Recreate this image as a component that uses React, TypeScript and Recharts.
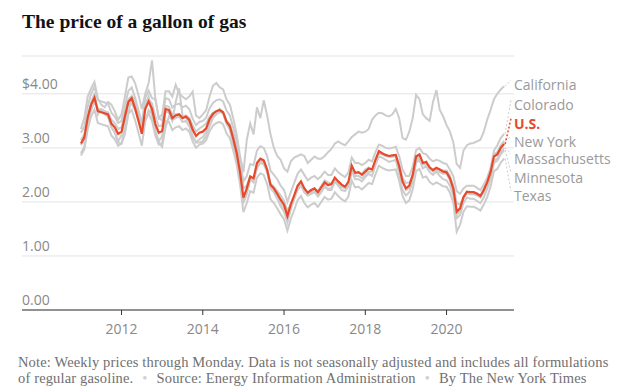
import { LineChart, Line, XAxis, YAxis, CartesianGrid } from 'recharts'

// monthly averages, Jan 2011 .. Jun 2021
const START_YEAR = 2011

const us = [
  3.08, 3.19, 3.56, 3.80, 3.93, 3.68, 3.66, 3.64, 3.62, 3.45, 3.38, 3.26,
  3.30, 3.58, 3.85, 3.92, 3.73, 3.50, 3.26, 3.72, 3.86, 3.72, 3.44, 3.28,
  3.31, 3.72, 3.70, 3.55, 3.60, 3.62, 3.55, 3.58, 3.52, 3.34, 3.22, 3.28,
  3.30, 3.36, 3.53, 3.63, 3.68, 3.70, 3.66, 3.49, 3.40, 3.17, 2.91, 2.55,
  2.08, 2.25, 2.47, 2.44, 2.72, 2.80, 2.77, 2.60, 2.32, 2.25, 2.15, 2.04,
  1.95, 1.74, 1.96, 2.12, 2.30, 2.38, 2.25, 2.17, 2.22, 2.25, 2.18, 2.27,
  2.36, 2.31, 2.33, 2.45, 2.38, 2.32, 2.28, 2.37, 2.67, 2.54, 2.55, 2.50,
  2.56, 2.62, 2.60, 2.78, 2.94, 2.90, 2.87, 2.85, 2.86, 2.87, 2.66, 2.38,
  2.25, 2.30, 2.50, 2.84, 2.88, 2.72, 2.74, 2.64, 2.59, 2.63, 2.60, 2.56,
  2.55, 2.44, 2.25, 1.82, 1.88, 2.09, 2.19, 2.18, 2.18, 2.15, 2.11, 2.22,
  2.36, 2.55, 2.84, 2.88, 3.00, 3.07,
]

const california = [
  3.35, 3.55, 3.95, 4.10, 4.22, 3.92, 3.80, 3.75, 3.85, 3.80, 3.68, 3.52,
  3.62, 3.95, 4.30, 4.32, 4.20, 3.98, 3.72, 4.00, 4.20, 4.62, 3.90, 3.55,
  3.62, 4.05, 4.05, 3.95, 4.17, 4.00, 3.95, 3.90, 3.95, 4.04, 3.60, 3.55,
  3.62, 3.70, 3.95, 4.15, 4.20, 4.12, 4.08, 3.90, 3.80, 3.55, 3.25, 2.85,
  2.55, 3.15, 3.45, 3.25, 3.75, 3.55, 3.88, 3.60, 3.25, 3.00, 2.85, 2.78,
  2.62, 2.56, 2.75, 2.82, 2.85, 2.88, 2.85, 2.72, 2.78, 2.84, 2.80, 2.80,
  2.85, 2.92, 2.98, 3.08, 3.12, 3.08, 3.05, 3.12, 3.20, 3.25, 3.30, 3.28,
  3.30, 3.35, 3.52, 3.60, 3.65, 3.64, 3.60, 3.58, 3.62, 3.72, 3.55, 3.18,
  3.15, 3.30, 3.55, 3.98, 3.90, 3.62, 3.55, 3.50, 3.85, 4.07, 3.70, 3.58,
  3.42, 3.30, 3.10, 2.70, 2.63, 2.95, 3.05, 3.08, 3.09, 3.12, 3.15, 3.30,
  3.52, 3.70, 3.90, 4.00, 4.08, 4.14,
]

const colorado = [
  2.90, 3.02, 3.40, 3.70, 3.85, 3.72, 3.68, 3.62, 3.58, 3.38, 3.28, 3.10,
  3.08, 3.25, 3.62, 3.95, 3.90, 3.62, 3.30, 3.50, 3.70, 3.62, 3.32, 3.10,
  3.02, 3.38, 3.58, 3.52, 3.55, 3.58, 3.48, 3.50, 3.40, 3.20, 3.10, 3.10,
  3.12, 3.22, 3.40, 3.55, 3.62, 3.66, 3.64, 3.46, 3.35, 3.10, 2.80, 2.40,
  2.00, 2.15, 2.42, 2.40, 2.62, 2.72, 2.70, 2.55, 2.30, 2.25, 2.10, 1.98,
  1.88, 1.68, 1.88, 2.06, 2.22, 2.30, 2.18, 2.12, 2.15, 2.18, 2.12, 2.20,
  2.28, 2.24, 2.26, 2.38, 2.33, 2.28, 2.25, 2.32, 2.58, 2.48, 2.48, 2.44,
  2.50, 2.56, 2.56, 2.74, 2.90, 2.88, 2.86, 2.84, 2.84, 2.84, 2.64, 2.38,
  2.22, 2.26, 2.45, 2.78, 2.86, 2.72, 2.72, 2.62, 2.56, 2.58, 2.55, 2.52,
  2.52, 2.40, 2.20, 1.76, 1.84, 2.06, 2.18, 2.18, 2.18, 2.16, 2.12, 2.24,
  2.40, 2.62, 2.95, 3.05, 3.18, 3.26,
]

const newYork = [
  3.28, 3.39, 3.76, 4.00, 4.13, 3.88, 3.86, 3.84, 3.82, 3.65, 3.58, 3.46,
  3.50, 3.78, 4.05, 4.12, 3.93, 3.70, 3.46, 3.92, 4.06, 3.92, 3.90, 3.55,
  3.51, 3.92, 3.90, 3.75, 3.80, 3.82, 3.75, 3.78, 3.72, 3.54, 3.42, 3.48,
  3.50, 3.56, 3.73, 3.83, 3.88, 3.90, 3.86, 3.69, 3.60, 3.37, 3.11, 2.78,
  2.38, 2.48, 2.70, 2.68, 2.95, 3.03, 3.00, 2.85, 2.58, 2.50, 2.42, 2.30,
  2.22, 2.00, 2.18, 2.35, 2.52, 2.60, 2.50, 2.40, 2.45, 2.48, 2.42, 2.48,
  2.56, 2.50, 2.50, 2.62, 2.55, 2.50, 2.46, 2.54, 2.82, 2.72, 2.72, 2.68,
  2.72, 2.78, 2.75, 2.92, 3.06, 3.04, 3.00, 2.99, 3.00, 3.02, 2.85, 2.60,
  2.48, 2.48, 2.65, 2.96, 3.00, 2.90, 2.88, 2.80, 2.75, 2.78, 2.76, 2.72,
  2.70, 2.60, 2.48, 2.20, 2.15, 2.25, 2.30, 2.30, 2.30, 2.26, 2.22, 2.32,
  2.45, 2.62, 2.88, 2.92, 3.05, 3.13,
]

const massachusetts = [
  3.14, 3.25, 3.58, 3.80, 3.93, 3.72, 3.70, 3.68, 3.66, 3.52, 3.46, 3.35,
  3.38, 3.65, 3.90, 3.96, 3.78, 3.55, 3.35, 3.76, 3.90, 3.82, 3.58, 3.40,
  3.42, 3.78, 3.76, 3.62, 3.62, 3.62, 3.58, 3.60, 3.56, 3.42, 3.30, 3.36,
  3.40, 3.45, 3.58, 3.65, 3.68, 3.70, 3.66, 3.50, 3.44, 3.24, 3.00, 2.70,
  2.25, 2.30, 2.48, 2.42, 2.66, 2.76, 2.74, 2.60, 2.34, 2.28, 2.20, 2.12,
  2.02, 1.84, 1.95, 2.10, 2.26, 2.34, 2.24, 2.16, 2.20, 2.24, 2.20, 2.30,
  2.40, 2.36, 2.33, 2.42, 2.36, 2.30, 2.26, 2.34, 2.64, 2.52, 2.54, 2.52,
  2.60, 2.64, 2.60, 2.74, 2.90, 2.88, 2.85, 2.84, 2.84, 2.86, 2.70, 2.44,
  2.35, 2.36, 2.48, 2.76, 2.84, 2.70, 2.68, 2.62, 2.57, 2.60, 2.60, 2.58,
  2.58, 2.48, 2.30, 1.98, 1.95, 2.08, 2.16, 2.14, 2.14, 2.12, 2.08, 2.18,
  2.32, 2.50, 2.76, 2.80, 2.92, 3.00,
]

const minnesota = [
  3.05, 3.15, 3.55, 3.82, 4.02, 3.62, 3.72, 3.68, 3.58, 3.38, 3.30, 3.12,
  3.24, 3.50, 3.80, 3.82, 3.70, 3.55, 3.30, 3.80, 3.95, 3.62, 3.30, 3.12,
  3.22, 3.68, 3.65, 3.50, 3.85, 4.10, 3.60, 3.55, 3.48, 3.22, 3.10, 3.16,
  3.20, 3.30, 3.48, 3.60, 3.62, 3.72, 3.64, 3.44, 3.34, 3.06, 2.84, 2.45,
  1.98, 2.16, 2.42, 2.36, 2.66, 2.74, 2.70, 2.58, 2.25, 2.18, 2.06, 1.92,
  1.82, 1.62, 1.88, 2.05, 2.24, 2.34, 2.18, 2.12, 2.16, 2.20, 2.10, 2.18,
  2.30, 2.22, 2.22, 2.38, 2.30, 2.22, 2.20, 2.28, 2.58, 2.42, 2.42, 2.38,
  2.46, 2.52, 2.48, 2.68, 2.84, 2.82, 2.78, 2.74, 2.76, 2.78, 2.52, 2.22,
  2.12, 2.18, 2.38, 2.72, 2.78, 2.62, 2.66, 2.55, 2.50, 2.56, 2.48, 2.42,
  2.40, 2.30, 2.12, 1.70, 1.76, 1.98, 2.08, 2.06, 2.06, 2.02, 1.98, 2.08,
  2.24, 2.42, 2.72, 2.76, 2.88, 2.96,
]

const texas = [
  2.86, 2.97, 3.34, 3.58, 3.71, 3.46, 3.44, 3.42, 3.40, 3.23, 3.16, 3.04,
  3.08, 3.36, 3.63, 3.70, 3.51, 3.28, 3.04, 3.50, 3.64, 3.50, 3.22, 3.06,
  3.09, 3.50, 3.48, 3.33, 3.38, 3.40, 3.33, 3.36, 3.30, 3.12, 3.00, 3.06,
  3.08, 3.14, 3.31, 3.41, 3.46, 3.48, 3.44, 3.27, 3.18, 2.95, 2.69, 2.33,
  1.81, 1.98, 2.20, 2.17, 2.45, 2.53, 2.50, 2.33, 2.05, 1.98, 1.88, 1.77,
  1.68, 1.47, 1.69, 1.85, 2.03, 2.11, 1.98, 1.90, 1.95, 1.98, 1.91, 2.00,
  2.09, 2.04, 2.06, 2.18, 2.11, 2.05, 2.01, 2.10, 2.40, 2.27, 2.28, 2.23,
  2.29, 2.35, 2.33, 2.51, 2.67, 2.63, 2.60, 2.58, 2.59, 2.60, 2.39, 2.11,
  1.98, 2.03, 2.23, 2.57, 2.61, 2.45, 2.47, 2.37, 2.32, 2.36, 2.33, 2.29,
  2.28, 2.17, 1.98, 1.45, 1.58, 1.82, 1.92, 1.91, 1.91, 1.88, 1.84, 1.95,
  2.09, 2.28, 2.57, 2.61, 2.73, 2.80,
]

const yearTicks = [2012, 2014, 2016, 2018, 2020]
const priceTicks = [0, 1, 2, 3, 4]

const states = [
  { key: 'california', name: 'California', values: california },
  { key: 'colorado', name: 'Colorado', values: colorado },
  { key: 'newYork', name: 'New York', values: newYork },
  { key: 'massachusetts', name: 'Massachusetts', values: massachusetts },
  { key: 'minnesota', name: 'Minnesota', values: minnesota },
  { key: 'texas', name: 'Texas', values: texas },
]

// baseline y of each end label
const LABEL_Y: Record<string, number> = {
  california: 90,
  colorado: 110,
  us: 128.5,
  newYork: 146.5,
  massachusetts: 164,
  minnesota: 182.5,
  texas: 201,
}

const RED = '#e8492a'
const GRAY = '#cccccc'
const SANS = '"Open Sans", "Noto Sans", sans-serif'
const SERIF = '"Liberation Serif", "Times New Roman", serif'

const data = us.map((v, i) => {
  const row: Record<string, number> = { t: START_YEAR + i / 12, us: v }
  states.forEach((s) => {
    row[s.key] = s.values[i]
  })
  return row
})

const LAST = us.length - 1
const LABEL_X = 514

function endLabel(key: string, name: string, color: string, bold: boolean) {
  return (props: any) => {
    if (props.index !== LAST) return null
    const { x, y } = props
    const by = LABEL_Y[key]
    return (
      <g key={`lbl-${key}`}>
        <line
          x1={x + 1}
          y1={y}
          x2={LABEL_X - 3}
          y2={by - 10}
          stroke={color}
          strokeWidth={bold ? 1.5 : 1}
          strokeDasharray="2 2"
        />
        <text
          x={LABEL_X}
          y={by}
          fill={color === GRAY ? '#9a9a9a' : color}
          fontSize={14}
          fontWeight={bold ? 700 : 400}
          fontFamily={SANS}
        >
          {name}
        </text>
      </g>
    )
  }
}

function priceTick(props: any) {
  const { y, payload } = props
  const v = Number(payload.value)
  return (
    <text key={`pt-${v}`} x={22} y={y - 5} fill="#888" fontSize={14} fontFamily={SANS}>
      {v === 4 ? `$${v.toFixed(2)}` : v.toFixed(2)}
    </text>
  )
}

export default function App() {
  return (
    <div
      style={{
        position: 'absolute',
        left: 0,
        top: 0,
        width: 625,
        height: 392,
        background: '#fff',
        overflow: 'hidden',
      }}
    >
      <div
        style={{
          position: 'absolute',
          left: 22,
          top: 12,
          fontFamily: SERIF,
          fontWeight: 700,
          fontSize: 19.5,
          lineHeight: '19.5px',
          color: '#121212',
          whiteSpace: 'nowrap',
        }}
      >
        The price of a gallon of gas
      </div>

      <div style={{ position: 'absolute', left: 0, top: 0 }}>
        <LineChart
          width={625}
          height={340}
          data={data}
          margin={{ top: 56, right: 111, bottom: 0, left: 21 }}
        >
          <CartesianGrid vertical={false} stroke="#e3e3e3" />
          <XAxis
            dataKey="t"
            type="number"
            domain={[2009.55, 2021.66]}
            ticks={yearTicks}
            allowDataOverflow
            height={30}
            stroke="#333"
            tickSize={5}
            tickMargin={9}
            tick={{ fill: '#888', fontSize: 14, fontFamily: SANS }}
          />
          <YAxis
            type="number"
            domain={[0, 4.7]}
            ticks={priceTicks}
            width={1}
            axisLine={false}
            tickLine={false}
            tick={priceTick}
            interval={0}
            allowDataOverflow
          />
          {states.map((s) => (
            <Line
              key={s.key}
              dataKey={s.key}
              type="linear"
              stroke={GRAY}
              strokeWidth={2}
              dot={false}
              isAnimationActive={false}
              label={endLabel(s.key, s.name, GRAY, false)}
            />
          ))}
          <Line
            dataKey="us"
            type="linear"
            stroke={RED}
            strokeWidth={2.2}
            dot={false}
            isAnimationActive={false}
            label={endLabel('us', 'U.S.', RED, true)}
          />
        </LineChart>
      </div>

      <div
        style={{
          position: 'absolute',
          left: 18,
          top: 354,
          fontFamily: SERIF,
          fontSize: 14.5,
          letterSpacing: 0.15,
          lineHeight: '16px',
          color: '#707070',
          whiteSpace: 'nowrap',
        }}
      >
        Note: Weekly prices through Monday. Data is not seasonally adjusted and includes all formulations
        <br />
        of regular gasoline.
        <span style={{ color: '#d0d0d0', margin: '0 9px' }}>•</span>
        Source: Energy Information Administration
        <span style={{ color: '#d0d0d0', margin: '0 9px' }}>•</span>
        By The New York Times
      </div>
    </div>
  )
}
